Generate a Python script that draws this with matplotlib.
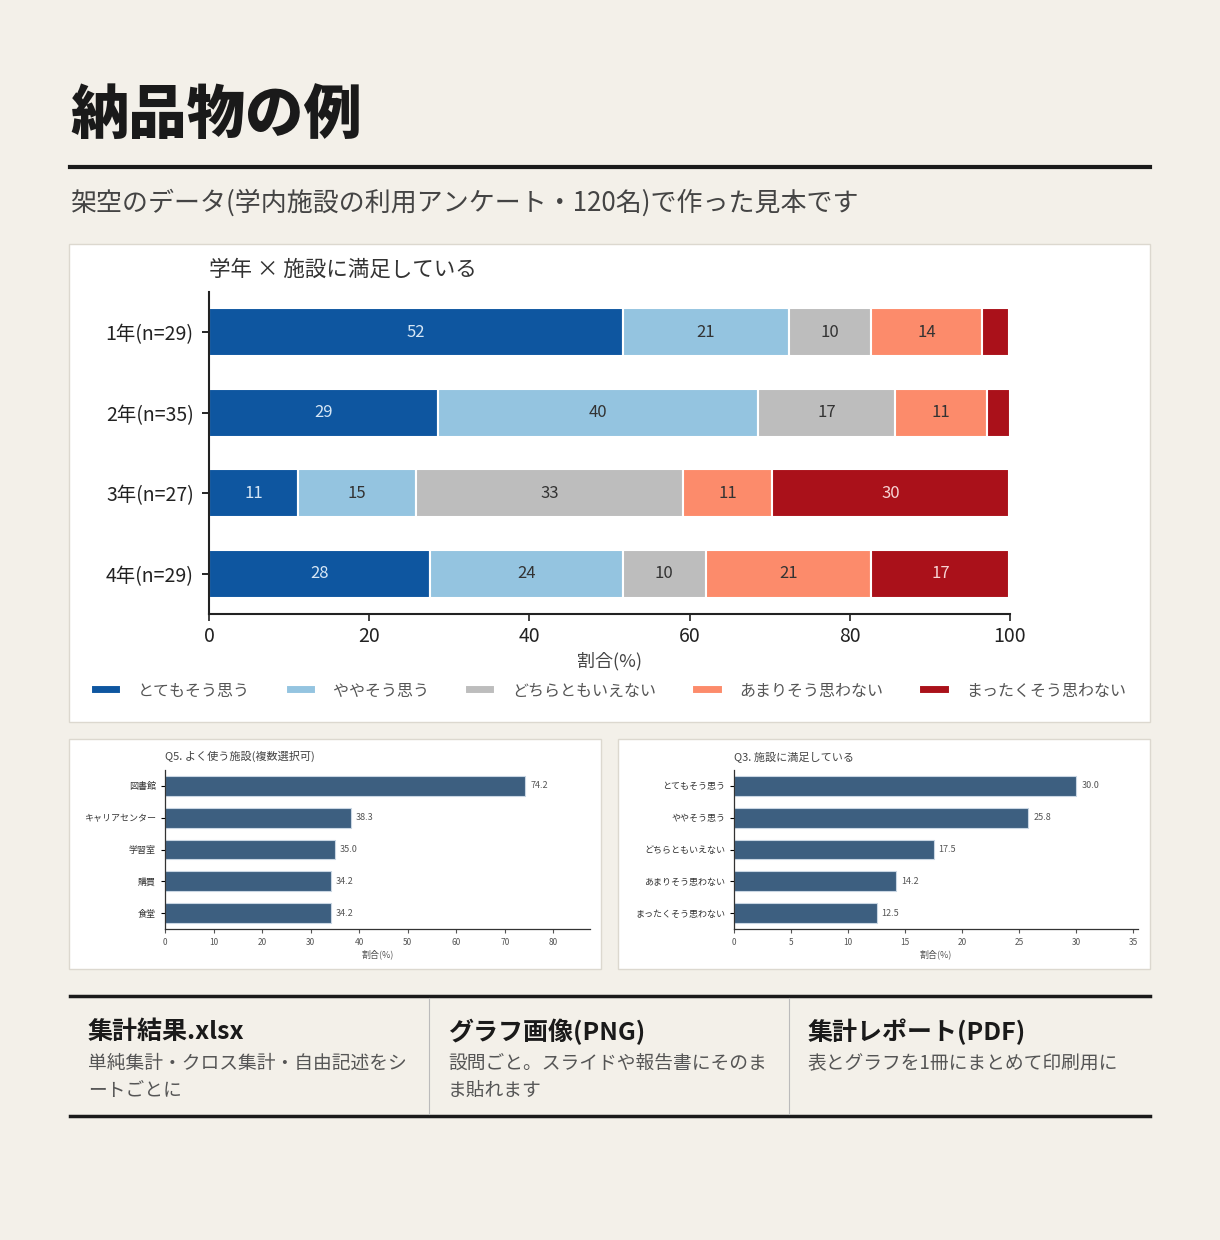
import numpy as np
import matplotlib
matplotlib.use('Agg')
import matplotlib.pyplot as plt
from matplotlib.patches import Rectangle

plt.rcParams['font.family'] = ['Noto Sans CJK JP', 'DejaVu Sans']

# data
grades = ['1年(n=29)', '2年(n=35)', '3年(n=27)', '4年(n=29)']
answers = ['とてもそう思う', 'ややそう思う', 'どちらともいえない', 'あまりそう思わない', 'まったくそう思わない']
pct_very = [51.7, 28.6, 11.1, 27.6]
pct_some = [20.7, 40.0, 14.8, 24.1]
pct_neutral = [10.3, 17.1, 33.3, 10.3]
pct_little = [13.8, 11.4, 11.1, 20.7]
pct_not = [3.4, 2.9, 29.6, 17.2]

facilities = ['図書館', 'キャリアセンター', '学習室', '購買', '食堂']
facility_pct = [74.2, 38.3, 35.0, 34.2, 34.2]
satisfaction_pct = [30.0, 25.8, 17.5, 14.2, 12.5]

deliverables = ['集計結果.xlsx', 'グラフ画像(PNG)', '集計レポート(PDF)']
deliverable_notes = ['単純集計・クロス集計・自由記述をシ\nートごとに',
                     '設問ごと。スライドや報告書にそのま\nま貼れます',
                     '表とグラフを1冊にまとめて印刷用に']

colors = ['#0e56a0', '#94c4e0', '#bdbdbd', '#fc8b6b', '#aa111a']
text_on = ['#d6e6f5', '#333333', '#333333', '#333333', '#f7d4d4']
bg = '#f3f0e9'
W, H = 1220, 1240


def box(x0, y0, x1, y1):
    # rectangle in pixel coords (y down)
    return [x0 / W, 1 - y1 / H, (x1 - x0) / W, (y1 - y0) / H]


fig = plt.figure(figsize=(12.2, 12.4), dpi=100)
fig.patch.set_facecolor(bg)

# header
fig.text(70 / W, 1 - 116 / H, '納品物の例', fontsize=42, fontweight='black',
         color='#1a1a1a', va='center', ha='left')
fig.add_artist(plt.Line2D([70 / W, 1150 / W], [1 - 167 / H] * 2, color='#1a1a1a', lw=3))
fig.text(70 / W, 1 - 203 / H, '架空のデータ(学内施設の利用アンケート・120名)で作った見本です',
         fontsize=18.7, color='#444444', va='center', ha='left')

# panel backgrounds
for b in [box(69, 244, 1150, 722), box(69, 739, 601, 969), box(618, 739, 1150, 969)]:
    fig.add_artist(Rectangle((b[0], b[1]), b[2], b[3], transform=fig.transFigure,
                             facecolor='white', edgecolor='#dcd8cf', lw=1, zorder=-1))

# main stacked bar chart
ax = fig.add_axes(box(209, 292, 1010, 614))
ax.set_facecolor('white')
series = [pct_very, pct_some, pct_neutral, pct_little, pct_not]
y = np.arange(len(grades))
left = np.zeros(len(grades))
for vals, name, c, tc in zip(series, answers, colors, text_on):
    vals = np.array(vals)
    ax.barh(y, vals, left=left, height=0.6, color=c, edgecolor='white', lw=1.5, label=name)
    for yi, (l, v) in enumerate(zip(left, vals)):
        if v >= 5:
            ax.text(l + v / 2, yi, f'{v:.0f}', ha='center', va='center', fontsize=12, color=tc)
    left += vals
ax.set_xlim(0, 100)
ax.set_ylim(3.5, -0.5)
ax.set_yticks(y)
ax.set_yticklabels(grades, fontsize=14, color='#222222')
ax.set_xticks(np.arange(0, 101, 20))
ax.tick_params(axis='x', labelsize=14, colors='#222222', length=5, width=1.2)
ax.tick_params(axis='y', length=5, width=1.2, pad=6)
ax.set_xlabel('割合(%)', fontsize=13, color='#444444', labelpad=4)
for s in ['top', 'right']:
    ax.spines[s].set_visible(False)
for s in ['left', 'bottom']:
    ax.spines[s].set_linewidth(1.5)
    ax.spines[s].set_color('#222222')
ax.set_title('学年 × 施設に満足している', fontsize=15.5, color='#333333', loc='left', pad=12)
handles, labels = ax.get_legend_handles_labels()
fig.legend(handles, labels, loc='center left', bbox_to_anchor=(91 / W, 1 - 691 / H), ncol=5,
           frameon=False, fontsize=11.5, handlelength=1.9, handleheight=0.5,
           columnspacing=2.25, handletextpad=1.05, labelcolor='#555555', borderpad=0,
           borderaxespad=0)


def small_chart(rect, labels, vals, xmax, step, title):
    a = fig.add_axes(box(*rect))
    a.set_facecolor('white')
    yy = np.arange(len(labels))
    a.barh(yy, vals, height=0.62, color='#3d5f80', edgecolor='#c9d6e3', lw=0.8)
    for yi, v in enumerate(vals):
        a.text(v + xmax * 0.012, yi, f'{v:.1f}', va='center', ha='left', fontsize=6.5, color='#555555')
    a.set_ylim(len(labels) - 0.5, -0.5)
    a.set_xlim(0, xmax)
    a.set_xticks(np.arange(0, xmax, step))
    a.set_yticks(yy)
    a.set_yticklabels(labels, fontsize=6.5, color='#333333')
    a.tick_params(axis='x', labelsize=6, colors='#555555', length=3, width=0.8)
    a.tick_params(axis='y', length=3, width=0.8)
    a.set_xlabel('割合(%)', fontsize=6.5, color='#555555', labelpad=2)
    a.set_title(title, fontsize=8, color='#444444', loc='left', pad=7)
    for s in ['top', 'right']:
        a.spines[s].set_visible(False)
    for s in ['left', 'bottom']:
        a.spines[s].set_linewidth(0.9)
        a.spines[s].set_color('#333333')
    return a


small_chart((165, 770, 590, 929), facilities, facility_pct, max(facility_pct) * 1.18, 10,
            'Q5. よく使う施設(複数選択可)')
small_chart((734, 770, 1138, 929), answers, satisfaction_pct, max(satisfaction_pct) * 1.18, 5,
            'Q3. 施設に満足している')

# footer
for yl in [996, 1116]:
    fig.add_artist(plt.Line2D([70 / W, 1150 / W], [1 - yl / H] * 2, color='#1a1a1a', lw=2.5))
for xl in [429, 789]:
    fig.add_artist(plt.Line2D([xl / W] * 2, [1 - 998 / H, 1 - 1114 / H], color='#bbbbbb', lw=0.8))
for i, (t, n) in enumerate(zip(deliverables, deliverable_notes)):
    x0 = 88 + i * 360
    fig.text(x0 / W, 1 - 1032 / H, t, fontsize=18, fontweight='bold', color='#1a1a1a',
             va='center', ha='left')
    fig.text(x0 / W, 1 - 1053 / H, n, fontsize=13.5, color='#555555', va='top', ha='left',
             linespacing=1.4)

fig.savefig('out.png', dpi=100, facecolor=bg)
